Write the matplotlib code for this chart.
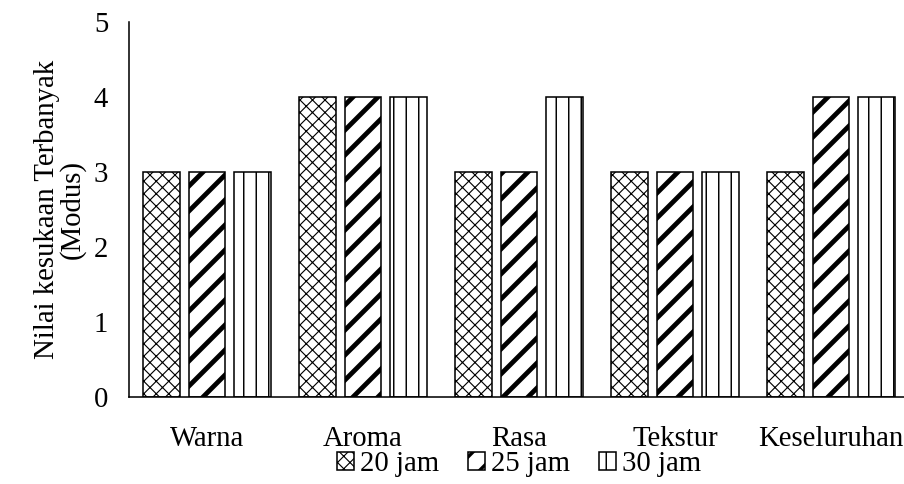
import matplotlib
matplotlib.use("Agg")
import matplotlib.pyplot as plt
import numpy as np

categories = ["Warna", "Aroma", "Rasa", "Tekstur", "Keseluruhan"]
series_names = ["20 jam", "25 jam", "30 jam"]
v20 = [3, 4, 3, 3, 3]
v25 = [3, 4, 3, 3, 4]
v30 = [3, 4, 4, 3, 4]
yticks = [0, 1, 2, 3, 4, 5]

plt.rcParams['font.family'] = ['Liberation Serif', 'DejaVu Serif']

DPI = 150
FS = 13.8
fig = plt.figure(figsize=(904 / DPI, 484 / DPI), dpi=DPI)
ax = fig.add_axes([129/904, 1 - 397/484, 780/904, 375/484])

x = np.arange(len(categories))
width = 0.237
step = 0.29
styles = [("xxxx", 0.55), ("//", 2.3), ("||", 0.7)]
for i, (vals, name) in enumerate(zip([v20, v25, v30], series_names)):
    h, lw = styles[i]
    bars = ax.bar(x + (i - 1) * step, vals, width, facecolor="white",
                  edgecolor="black", linewidth=0.75, hatch=h, label=name)
    for b in bars:
        try:
            b.set_hatch_linewidth(lw)
        except Exception:
            pass

ax.set_xlim(-0.5, len(categories) - 0.5)
ax.set_ylim(0, 5)
ax.set_yticks(yticks)
ax.set_xticks(x)
ax.set_xticklabels(categories, fontsize=FS)
ax.tick_params(axis='y', labelsize=FS, length=0, pad=10)
ax.tick_params(axis='x', length=0, pad=14)
for s in ["top", "right"]:
    ax.spines[s].set_visible(False)
ax.spines["left"].set_linewidth(0.75)
ax.spines["bottom"].set_linewidth(0.75)
ax.set_ylabel("Nilai kesukaan Terbanyak\n(Modus)", fontsize=FS, labelpad=4,
              linespacing=0.95)

leg = ax.legend(loc="upper center", bbox_to_anchor=(0.5, -0.075), ncol=3,
                frameon=False, fontsize=FS, handlelength=0.6, handleheight=0.6,
                handletextpad=0.2, columnspacing=1.0)
for hnd, (h, lw) in zip(leg.legend_handles, styles):
    try:
        hnd.set_hatch_linewidth(min(lw, 1.6))
    except Exception:
        pass

fig.savefig("out.png", dpi=DPI)
